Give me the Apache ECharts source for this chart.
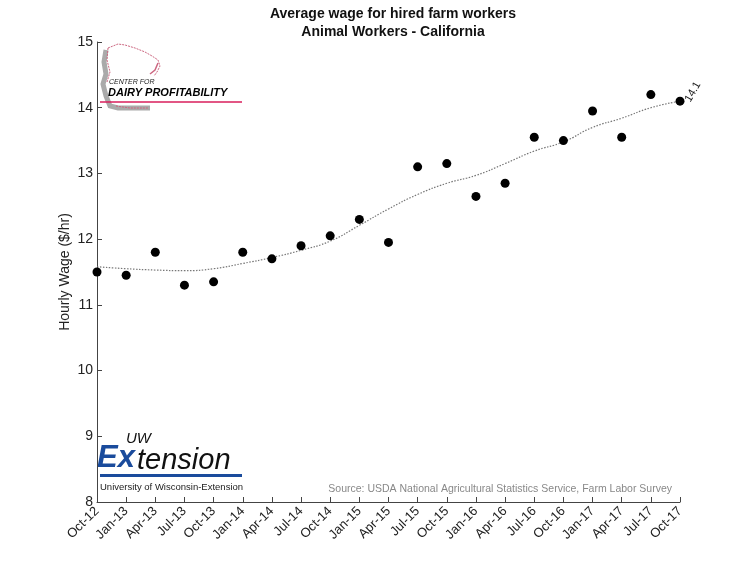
<!DOCTYPE html>
<html><head><meta charset="utf-8">
<script src="https://cdn.jsdelivr.net/npm/echarts@6/dist/echarts.min.js"></script>
<style>html,body{margin:0;padding:0;background:#fff}#c{width:750px;height:563px}</style>
</head><body><div id="c"></div>
<script>
const categories = ['Oct-12','Jan-13','Apr-13','Jul-13','Oct-13','Jan-14','Apr-14','Jul-14','Oct-14','Jan-15','Apr-15','Jul-15','Oct-15','Jan-16','Apr-16','Jul-16','Oct-16','Jan-17','Apr-17','Jul-17','Oct-17'];
const wages = [11.5,11.45,11.8,11.3,11.35,11.8,11.7,11.9,12.05,12.3,11.95,13.1,13.15,12.65,12.85,13.55,13.5,13.95,13.55,14.2,14.1];
const trend = [11.58,11.55,11.53,11.52,11.55,11.63,11.72,11.83,11.97,12.21,12.46,12.68,12.85,12.97,13.15,13.34,13.48,13.7,13.84,14.0,14.1];
const yTicks = [8,9,10,11,12,13,14,15];

const chart = echarts.init(document.getElementById('c'));
const F = 'Liberation Sans, Arial, sans-serif';
chart.setOption({
  animation:false,
  backgroundColor:'#fff',
  title:{
    text:'Average wage for hired farm workers\nAnimal Workers - California',
    left:388, top:0, textAlign:'center',
    textStyle:{fontFamily:F,fontSize:14,fontWeight:'bold',color:'#111',lineHeight:18}
  },
  grid:{left:97,right:70,top:42,bottom:61},
  xAxis:{
    type:'category', data:categories, boundaryGap:false,
    axisLine:{lineStyle:{color:'#444',width:1}},
    axisTick:{inside:true,length:5,alignWithLabel:true,lineStyle:{color:'#444'}},
    axisLabel:{rotate:45,fontFamily:F,fontSize:13,color:'#222',margin:7,interval:0},
    splitLine:{show:false}
  },
  yAxis:{
    type:'value', min:yTicks[0], max:yTicks[yTicks.length-1], interval:1,
    name:'Hourly Wage ($/hr)', nameLocation:'middle', nameGap:25, nameMoveOverlap:false,
    nameTextStyle:{fontFamily:F,fontSize:14,color:'#222'},
    axisLine:{show:true,lineStyle:{color:'#444',width:1}},
    axisTick:{show:true,inside:true,length:5,lineStyle:{color:'#444'}},
    axisLabel:{fontFamily:F,fontSize:14,color:'#222',margin:4},
    splitLine:{show:false}
  },
  series:[
    {type:'line',data:trend,smooth:true,symbol:'none',
     lineStyle:{color:'#777',width:1.2,type:[1.5,1.5]},z:2},
    {type:'scatter',data:wages,symbol:'circle',symbolSize:9,
     itemStyle:{color:'#000',opacity:1},z:3,
     label:{show:true,position:'right',distance:3,fontFamily:F,fontSize:11,color:'#222',rotate:60,
       formatter:function(p){return p.dataIndex===wages.length-1?String(p.value):'';}}}
  ],
  graphic:[
    {type:'text',right:78,top:484,style:{text:'Source: USDA National Agricultural Statistics Service, Farm Labor Survey',font:'10.5px '+F,fill:'#888'}},
    // Dairy logo: Wisconsin outline shadow
    {type:'polyline',shape:{points:[[106,50],[104,62],[106,74],[103,84],[106,96],[110,106],[118,108],[150,108]]},
     style:{stroke:'#aaa',lineWidth:5,fill:null}},
    {type:'polyline',shape:{points:[[108,48],[118,44],[125,45],[135,48],[145,52],[152,56],[158,60],[160,66],[157,72],[154,76]]},
     style:{stroke:'#cc6680',lineWidth:1,lineDash:[2,1],fill:null}},
    {type:'polyline',shape:{points:[[158,63],[155,70],[150,74]]},style:{stroke:'#cc6680',lineWidth:1.5,fill:null}},
    {type:'polyline',shape:{points:[[108,48],[107,60],[110,72],[107,82]]},style:{stroke:'#cc6680',lineWidth:1,lineDash:[2,1],fill:null}},
    {type:'polyline',shape:{points:[[116,106],[130,108],[148,108]]},style:{stroke:'#cc6680',lineWidth:1,lineDash:[2,1],fill:null}},
    {type:'text',left:109,top:79,style:{text:'CENTER FOR',font:'italic 7px '+F,fill:'#222'}},
    {type:'text',left:108,top:87,style:{text:'DAIRY PROFITABILITY',font:'italic bold 11px '+F,fill:'#000'}},
    {type:'line',shape:{x1:100,y1:102,x2:242,y2:102},style:{stroke:'#d81e5b',lineWidth:1.5}},
    // UW Extension logo
    {type:'text',left:126,top:431,style:{text:'UW',font:'italic 15px '+F,fill:'#111'}},
    {type:'text',left:97,top:443,style:{text:'Ex',font:'italic bold 31px '+F,fill:'#1a4b9c'}},
    {type:'text',left:137,top:446,style:{text:'tension',font:'italic 29px '+F,fill:'#111'}},
    {type:'rect',shape:{x:100,y:474,width:142,height:3},style:{fill:'#1a4b9c'}},
    {type:'text',left:100,top:482,style:{text:'University of Wisconsin-Extension',font:'9.5px '+F,fill:'#222'}}
  ]
});
</script></body></html>
